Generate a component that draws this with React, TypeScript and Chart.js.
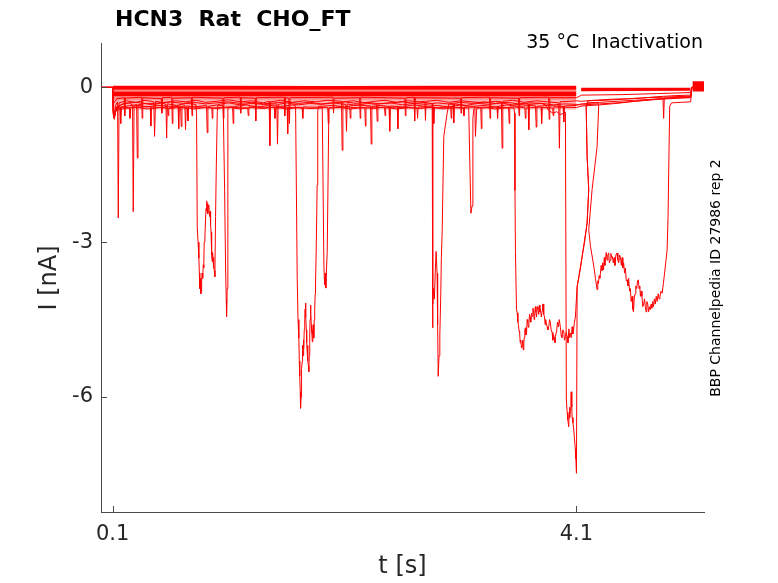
import React, { useEffect, useRef } from "react";
import { Chart, registerables } from "chart.js";

Chart.register(...registerables);

type P = [number, number];

// ---- axes ----
const xTicks = [0.1, 4.1];
const yTicks = [0, -3, -6];
const xLimits: P = [0, 5.2];
const yLimits: P = [-8.23, 0.86];

// ---- texts ----
const titleText = "HCN3  Rat  CHO_FT";
const subtitleText = "35 °C  Inactivation";
const sideText = "BBP Channelpedia ID 27986 rep 2";
const xLabel = "t [s]";
const yLabel = "I [nA]";

// ---- dense noise envelopes of the overlapping sweeps (t [s], I [nA]) ----
const preBand0: P[] = [[0.1, 0.03], [1.0, 0.03], [2.0, 0.025], [3.0, 0.03], [4.1, 0.03]];
const preBand1: P[] = [[0.1, -0.045], [1.0, -0.045], [2.0, -0.045], [3.0, -0.045], [4.1, -0.045]];
const preBand2: P[] = [[0.1, -0.08], [1.0, -0.08], [2.0, -0.08], [3.0, -0.08], [4.1, -0.08]];
const preBand3: P[] = [[0.1, -0.17], [1.0, -0.17], [2.0, -0.17], [3.0, -0.17], [4.1, -0.17]];
const preBand4: P[] = [[0.1, -0.24], [1.0, -0.24], [2.0, -0.24], [3.0, -0.24], [4.1, -0.24]];
const preBand5: P[] = [[0.1, -0.43], [1.0, -0.43], [2.0, -0.43], [3.0, -0.43], [4.1, -0.43]];
const postBand0: P[] = [[4.14, -0.005], [4.6, -0.005], [5.085, -0.005]];
const postBand1: P[] = [[4.14, -0.075], [4.6, -0.07], [5.085, -0.065]];
const tailBand0: P[] = [[5.1, 0.12], [5.2, 0.12]];
const tailBand1: P[] = [[5.1, -0.08], [5.2, -0.08]];

// ---- individual sweeps (t [s], I [nA]) ----
const sweep1: P[] = [
  [0, 0], [0.1, 0], [0.104, -0.45], [0.112, -0.58], [0.125, -0.35], [0.143, -0.28], [0.149, -2.53], [0.156, -0.3],
  [0.22, -0.26], [0.3, -0.29], [0.38, -0.25], [0.455, -0.28], [0.462, -0.95], [0.47, -0.27], [0.55, -0.3],
  [0.64, -0.26], [0.73, -0.28], [0.82, -0.25], [0.9, -0.29], [1.0, -0.27], [1.1, -0.24], [1.2, -0.28],
  [1.3, -0.26], [1.4, -0.3], [1.45, -0.27], [1.456, -1.13], [1.462, -0.28], [1.55, -0.25], [1.65, -0.29],
  [1.75, -0.26], [1.85, -0.28], [1.95, -0.25], [2.074, -0.27], [2.08, -1.22], [2.086, -0.28], [2.18, -0.26],
  [2.27, -0.3], [2.36, -0.27], [2.45, -0.25], [2.55, -0.29], [2.65, -0.26], [2.75, -0.28], [2.793, -0.27],
  [2.798, -0.64], [2.804, -0.27], [2.9, -0.25], [3.0, -0.29], [3.1, -0.26], [3.2, -0.28], [3.3, -0.3],
  [3.4, -0.27], [3.453, -0.28], [3.459, -1.18], [3.465, -0.27], [3.55, -0.25], [3.65, -0.29], [3.75, -0.26],
  [3.85, -0.28], [3.947, -0.3], [3.953, -1.18], [3.959, -0.28], [4.05, -0.27], [4.1, -0.26], [4.14, -0.27],
  [4.25, -0.25], [4.4, -0.23], [4.55, -0.22], [4.7, -0.2], [4.846, -0.19], [4.852, -0.6], [4.858, -0.19],
  [4.95, -0.18], [5.085, -0.17], [5.095, 0], [5.2, 0],
];

const sweep2: P[] = [
  [0, 0], [0.1, 0], [0.106, -0.5], [0.115, -0.62], [0.13, -0.4], [0.18, -0.33], [0.24, -0.3], [0.272, -0.34],
  [0.278, -2.41], [0.285, -0.36], [0.307, -0.33], [0.313, -1.37], [0.319, -0.34], [0.38, -0.31], [0.45, -0.34],
  [0.52, -0.3], [0.56, -0.33], [0.566, -0.98], [0.572, -0.32], [0.65, -0.35], [0.74, -0.31], [0.818, -0.33],
  [0.824, -0.5], [0.83, -2.72], [0.837, -3.0], [0.844, -3.31], [0.848, -3.6], [0.852, -3.9], [0.855, -3.7],
  [0.859, -3.76], [0.862, -4.0], [0.865, -3.96], [0.868, -3.75], [0.872, -3.6], [0.877, -3.7], [0.882, -3.44],
  [0.886, -3.5], [0.89, -3.0], [0.896, -2.9], [0.902, -2.53], [0.906, -2.35], [0.91, -2.4], [0.913, -2.2],
  [0.916, -2.31], [0.919, -2.25], [0.922, -2.45], [0.926, -2.3], [0.93, -2.28], [0.934, -2.45], [0.938, -2.5],
  [0.941, -2.4], [0.945, -2.66], [0.949, -2.8], [0.952, -3.1], [0.956, -3.25], [0.959, -3.38], [0.962, -3.2],
  [0.966, -3.3], [0.97, -3.5], [0.973, -3.47], [0.977, -3.55], [0.982, -3.67], [0.988, -2.5], [0.994, -1.56],
  [1.003, -0.47], [1.01, -0.33], [1.1, -0.3], [1.2, -0.34], [1.3, -0.31], [1.4, -0.33],
  [1.516, -0.32], [1.522, -1.1], [1.528, -0.33], [1.6, -0.3], [1.7, -0.34], [1.8, -0.31], [1.9, -0.33],
  [2.0, -0.3], [2.111, -0.33], [2.117, -0.85], [2.123, -0.32], [2.2, -0.35], [2.3, -0.31], [2.376, -0.33],
  [2.382, -0.66], [2.388, -0.32], [2.5, -0.3], [2.6, -0.34], [2.7, -0.31], [2.8, -0.33], [2.9, -0.3],
  [3.036, -0.33], [3.042, -0.69], [3.048, -0.32], [3.15, -0.35], [3.25, -0.31], [3.35, -0.33], [3.45, -0.3],
  [3.55, -0.34], [3.683, -0.32], [3.689, -0.82], [3.695, -0.33], [3.8, -0.31], [3.9, -0.34], [4.0, -0.32],
  [4.1, -0.33], [4.15, -0.34], [4.3, -0.32], [4.45, -0.3], [4.6, -0.27], [4.75, -0.24], [4.9, -0.22],
  [5.085, -0.2], [5.095, 0], [5.2, 0],
];

const sweep3: P[] = [
  [0, 0], [0.1, 0], [0.108, -0.48], [0.118, -0.55], [0.135, -0.4], [0.2, -0.37], [0.3, -0.34], [0.4, -0.38],
  [0.5, -0.35], [0.6, -0.37], [0.686, -0.36], [0.692, -0.76], [0.698, -0.37], [0.723, -0.35], [0.729, -0.82],
  [0.735, -0.36], [0.8, -0.38], [0.91, -0.35], [0.916, -0.88], [0.922, -0.37], [1.0, -0.34], [1.054, -0.36],
  [1.066, -2.0], [1.075, -3.6], [1.08, -4.1], [1.083, -4.44], [1.088, -3.9], [1.094, -0.4], [1.15, -0.37],
  [1.25, -0.34], [1.35, -0.38], [1.45, -0.35], [1.55, -0.37], [1.65, -0.34], [1.678, -0.36], [1.692, -3.7],
  [1.699, -4.5], [1.706, -4.86], [1.71, -5.3], [1.714, -5.6], [1.718, -5.9], [1.721, -6.22], [1.725, -6.0],
  [1.728, -5.8], [1.731, -5.45], [1.735, -5.32], [1.738, -5.0], [1.742, -5.2], [1.746, -4.9], [1.749, -5.06],
  [1.753, -4.7], [1.757, -4.5], [1.76, -4.3], [1.764, -4.18], [1.767, -4.45], [1.771, -4.7], [1.774, -4.95],
  [1.778, -5.12], [1.781, -5.0], [1.785, -5.3], [1.789, -5.4], [1.792, -5.51], [1.796, -5.2], [1.8, -4.8],
  [1.803, -4.5], [1.807, -4.22], [1.81, -4.4], [1.814, -4.6], [1.818, -4.75], [1.822, -4.93], [1.825, -4.7],
  [1.828, -4.8], [1.832, -4.6], [1.835, -4.86], [1.839, -4.5], [1.843, -4.3], [1.847, -4.0], [1.85, -3.83],
  [1.857, -3.0], [1.864, -1.89], [1.869, -0.47], [1.875, -0.37],
  [2.0, -0.35], [2.1, -0.38], [2.2, -0.34], [2.324, -0.36], [2.33, -1.1], [2.336, -0.37], [2.41, -0.35],
  [2.484, -0.37], [2.49, -0.85], [2.496, -0.36], [2.6, -0.38], [2.7, -0.34], [2.8, -0.37], [2.9, -0.35],
  [3.0, -0.38], [3.1, -0.34], [3.2, -0.37], [3.3, -0.35], [3.4, -0.38], [3.5, -0.34], [3.6, -0.37], [3.7, -0.35],
  [3.747, -0.36], [3.753, -0.77], [3.759, -0.37], [3.85, -0.35], [3.985, -0.37], [3.991, -0.67], [3.997, -0.36],
  [4.1, -0.35], [4.14, -0.32], [4.2, -0.31], [4.285, -0.3], [4.292, -0.35], [4.278, -1.15], [4.235, -1.98],
  [4.206, -2.76], [4.221, -3.08], [4.25, -3.47], [4.264, -3.7], [4.278, -3.92], [4.284, -3.75], [4.29, -3.8],
  [4.296, -3.65], [4.302, -3.7], [4.307, -3.6], [4.313, -3.45], [4.32, -3.55], [4.326, -3.4], [4.333, -3.54],
  [4.34, -3.3], [4.345, -3.45], [4.35, -3.34], [4.357, -3.2], [4.364, -3.35], [4.37, -3.25], [4.378, -3.21],
  [4.384, -3.4], [4.39, -3.35], [4.397, -3.22], [4.404, -3.3], [4.41, -3.28], [4.418, -3.4], [4.425, -3.3],
  [4.432, -3.45], [4.44, -3.25], [4.45, -3.21], [4.457, -3.35], [4.465, -3.4], [4.472, -3.25], [4.48, -3.3],
  [4.487, -3.45], [4.494, -3.3], [4.5, -3.5], [4.507, -3.4], [4.515, -3.6], [4.522, -3.5], [4.53, -3.75],
  [4.537, -3.73], [4.544, -3.85], [4.55, -3.7], [4.558, -3.95], [4.565, -3.9], [4.572, -4.15], [4.58, -4.05],
  [4.586, -4.3], [4.592, -4.35], [4.598, -4.1], [4.605, -4.0], [4.612, -3.85], [4.62, -3.9], [4.627, -3.75],
  [4.634, -3.73], [4.64, -3.9], [4.646, -3.85], [4.652, -4.05], [4.658, -3.95], [4.665, -4.05], [4.672, -4.25],
  [4.68, -4.2], [4.687, -4.1], [4.694, -4.25], [4.7, -4.35], [4.707, -4.15], [4.715, -4.2], [4.722, -4.35],
  [4.73, -4.25], [4.737, -4.31], [4.744, -4.2], [4.75, -4.28], [4.758, -4.15], [4.765, -4.25], [4.772, -4.1],
  [4.78, -4.2], [4.788, -4.05], [4.796, -4.15], [4.805, -4.0], [4.812, -4.1], [4.82, -4.05], [4.83, -3.95],
  [4.839, -3.99], [4.85, -3.8], [4.86, -3.6], [4.87, -3.4], [4.882, -3.15], [4.89, -2.5], [4.904, -0.37],
  [4.92, -0.3], [5.0, -0.29], [5.085, -0.28], [5.095, 0], [5.2, 0],
];

const sweep4: P[] = [
  [0, 0], [0.1, 0], [0.105, -0.52], [0.113, -0.6], [0.128, -0.45], [0.2, -0.41], [0.3, -0.38], [0.4, -0.42],
  [0.5, -0.39], [0.6, -0.41], [0.7, -0.38], [0.8, -0.42], [0.9, -0.39], [1.0, -0.41], [1.1, -0.38], [1.2, -0.42],
  [1.3, -0.39], [1.4, -0.41], [1.5, -0.38], [1.6, -0.42], [1.7, -0.39], [1.8, -0.41], [1.908, -0.4],
  [1.922, -3.44], [1.926, -3.7], [1.93, -3.83], [1.934, -3.6], [1.939, -3.89], [1.945, -3.5], [1.951, -3.18],
  [1.965, -0.4], [2.05, -0.38], [2.15, -0.42],
  [2.25, -0.39], [2.35, -0.41], [2.45, -0.38], [2.55, -0.42], [2.65, -0.39], [2.75, -0.41], [2.85, -0.38],
  [2.95, -0.42], [3.05, -0.39], [3.171, -0.4], [3.181, -1.5], [3.19, -2.44], [3.2, -2.3], [3.207, -0.6],
  [3.215, -0.42], [3.224, -0.4], [3.229, -0.95], [3.24, -0.41], [3.3, -0.38], [3.4, -0.42], [3.5, -0.39],
  [3.56, -0.4], [3.567, -0.5], [3.57, -2.0], [3.574, -3.18], [3.583, -4.3], [3.589, -4.37], [3.595, -4.55],
  [3.6, -4.6], [3.605, -4.72], [3.61, -4.75], [3.615, -4.95], [3.62, -4.9], [3.626, -5.05], [3.632, -5.02],
  [3.637, -4.9], [3.641, -5.09], [3.646, -4.95], [3.65, -4.85], [3.655, -4.7], [3.66, -4.66], [3.665, -4.8],
  [3.67, -4.75], [3.675, -4.5], [3.68, -4.55], [3.685, -4.65], [3.69, -4.6], [3.695, -4.4], [3.7, -4.45],
  [3.706, -4.55], [3.712, -4.38], [3.718, -4.44], [3.724, -4.28], [3.73, -4.3], [3.735, -4.5], [3.74, -4.42],
  [3.745, -4.25], [3.75, -4.35], [3.756, -4.45], [3.762, -4.25], [3.768, -4.3], [3.775, -4.4], [3.78, -4.22],
  [3.785, -4.35], [3.79, -4.3], [3.797, -4.45], [3.804, -4.34], [3.808, -4.2], [3.813, -4.2], [3.818, -4.4],
  [3.825, -4.45], [3.83, -4.6], [3.835, -4.5], [3.841, -4.58], [3.847, -4.64], [3.854, -4.7], [3.861, -4.64],
  [3.868, -4.5], [3.875, -4.55], [3.882, -4.7], [3.89, -4.75], [3.897, -4.9], [3.903, -4.8], [3.91, -4.86],
  [3.915, -4.95], [3.919, -4.83], [3.925, -4.75], [3.93, -4.7], [3.937, -4.55], [3.945, -4.64], [3.952, -4.5],
  [3.962, -4.66], [3.968, -4.8], [3.975, -4.85], [3.982, -4.7], [3.99, -4.72], [3.997, -4.9], [4.005, -4.83],
  [4.012, -4.75], [4.02, -4.83], [4.027, -4.95], [4.035, -4.68], [4.041, -4.85], [4.048, -4.76], [4.055, -4.85],
  [4.063, -4.64], [4.069, -4.78], [4.075, -4.7], [4.083, -4.55], [4.091, -4.45], [4.106, -3.86], [4.12, -3.7],
  [4.135, -3.5], [4.149, -3.28], [4.17, -3.0], [4.192, -2.63], [4.206, -1.98], [4.192, -1.34], [4.184, -0.37],
  [4.19, -0.3], [4.3, -0.29], [4.45, -0.27], [4.6, -0.25], [4.75, -0.23], [4.9, -0.21], [5.085, -0.19],
  [5.095, 0], [5.2, 0],
];

const sweep5: P[] = [
  [0, 0], [0.1, 0], [0.107, -0.46], [0.116, -0.57], [0.132, -0.38], [0.2, -0.31], [0.3, -0.29], [0.4, -0.32],
  [0.5, -0.3], [0.6, -0.28], [0.7, -0.31], [0.8, -0.29], [0.9, -0.32], [1.0, -0.3], [1.1, -0.28], [1.2, -0.31],
  [1.3, -0.29], [1.4, -0.32], [1.5, -0.3], [1.6, -0.28], [1.7, -0.31], [1.8, -0.29], [1.9, -0.32], [2.0, -0.3],
  [2.1, -0.28], [2.2, -0.31], [2.3, -0.29], [2.4, -0.32], [2.5, -0.3], [2.6, -0.28], [2.7, -0.31], [2.8, -0.29],
  [2.856, -0.32], [2.859, -4.66], [2.863, -4.2], [2.868, -3.9], [2.875, -4.1], [2.882, -3.6], [2.89, -3.18],
  [2.898, -3.6], [2.903, -4.6], [2.908, -5.6], [2.915, -5.2], [2.922, -4.8], [2.93, -4.0], [2.935, -3.3],
  [2.942, -2.8], [2.956, -0.95], [2.985, -0.5], [3.0, -0.32], [3.1, -0.29],
  [3.2, -0.31], [3.3, -0.28], [3.4, -0.31], [3.5, -0.29], [3.6, -0.32], [3.7, -0.3], [3.8, -0.31], [3.84, -0.35],
  [3.86, -0.45], [3.9, -0.5], [3.93, -0.47], [3.96, -0.53], [3.99, -0.5], [4.005, -0.48], [4.013, -6.06],
  [4.02, -6.3], [4.026, -6.45], [4.033, -6.58], [4.037, -6.35], [4.04, -6.2], [4.044, -6.4], [4.048, -6.25],
  [4.052, -6.0], [4.055, -5.9], [4.06, -6.2], [4.063, -6.4], [4.07, -6.5], [4.077, -6.64], [4.083, -6.8],
  [4.09, -7.0], [4.095, -7.2], [4.1, -7.48], [4.106, -3.86], [4.149, -3.28], [4.192, -2.63], [4.206, -1.98],
  [4.192, -1.34], [4.184, -0.37], [4.2, -0.26], [4.35, -0.25], [4.5, -0.23], [4.65, -0.21], [4.8, -0.18],
  [4.95, -0.16], [5.085, -0.15], [5.095, 0], [5.2, 0],
];

const sweep6: P[] = [
  [0, 0], [0.1, 0], [0.11, -0.3], [0.14, -0.22], [0.2, -0.2], [0.205, -0.55], [0.21, -0.21], [0.35, -0.19],
  [0.355, -0.6], [0.36, -0.2], [0.52, -0.22], [0.525, -0.5], [0.53, -0.2], [0.61, -0.19], [0.615, -0.7],
  [0.62, -0.21], [0.78, -0.2], [0.785, -0.55], [0.79, -0.19], [1.05, -0.21], [1.055, -0.6], [1.06, -0.2],
  [1.2, -0.19], [1.205, -0.5], [1.21, -0.2], [1.33, -0.21], [1.335, -0.65], [1.34, -0.2], [1.58, -0.19],
  [1.585, -0.55], [1.59, -0.2], [1.62, -0.21], [1.625, -0.7], [1.63, -0.2], [2.0, -0.19], [2.005, -0.5],
  [2.01, -0.21], [2.23, -0.2], [2.235, -0.6], [2.24, -0.19], [2.62, -0.21], [2.625, -0.55], [2.63, -0.2],
  [2.7, -0.19], [2.705, -0.65], [2.71, -0.2], [3.1, -0.21], [3.105, -0.5], [3.11, -0.2], [3.35, -0.19],
  [3.355, -0.6], [3.36, -0.2], [3.6, -0.21], [3.605, -0.55], [3.61, -0.2], [3.86, -0.19], [3.865, -0.62],
  [3.87, -0.2], [4.1, -0.2], [4.145, -0.15], [4.5, -0.14], [4.8, -0.12], [5.085, -0.1], [5.095, 0], [5.2, 0],
];

const sweep7: P[] = [
  [0, 0], [0.1, 0], [0.109, -0.5], [0.12, -0.45], [0.165, -0.38], [0.17, -0.7], [0.175, -0.38], [0.245, -0.4],
  [0.25, -0.6], [0.255, -0.39], [0.425, -0.37], [0.43, -0.75], [0.435, -0.4], [0.575, -0.38], [0.58, -0.55],
  [0.585, -0.4], [0.665, -0.37], [0.67, -0.8], [0.675, -0.39], [0.745, -0.4], [0.75, -0.65], [0.755, -0.38],
  [0.955, -0.39], [0.96, -0.6], [0.965, -0.4], [1.135, -0.38], [1.14, -0.7], [1.145, -0.39], [1.265, -0.4],
  [1.27, -0.55], [1.275, -0.38], [1.495, -0.39], [1.5, -0.6], [1.505, -0.4], [1.605, -0.38], [1.61, -0.9],
  [1.615, -0.39], [1.735, -0.4], [1.74, -0.6], [1.745, -0.38], [1.955, -0.39], [1.96, -0.7], [1.965, -0.4],
  [2.145, -0.38], [2.15, -0.6], [2.155, -0.39], [2.275, -0.4], [2.28, -0.75], [2.285, -0.38], [2.445, -0.39],
  [2.45, -0.55], [2.455, -0.4], [2.555, -0.38], [2.56, -0.8], [2.565, -0.39], [2.725, -0.4], [2.73, -0.6],
  [2.735, -0.38], [2.865, -0.39], [2.87, -0.7], [2.875, -0.4], [3.015, -0.38], [3.02, -0.6], [3.025, -0.39],
  [3.125, -0.4], [3.13, -0.55], [3.135, -0.38], [3.275, -0.39], [3.28, -0.8], [3.285, -0.4], [3.415, -0.38],
  [3.42, -0.6], [3.425, -0.39], [3.515, -0.4], [3.52, -0.7], [3.525, -0.38], [3.655, -0.39], [3.66, -0.6],
  [3.665, -0.4], [3.795, -0.38], [3.8, -0.7], [3.805, -0.39], [3.895, -0.4], [3.9, -0.55], [3.905, -0.38],
  [4.1, -0.39], [4.15, -0.36], [4.3, -0.34], [4.45, -0.31], [4.6, -0.27], [4.75, -0.24], [4.9, -0.2],
  [5.085, -0.18], [5.095, 0], [5.2, 0],
];

const RED = "rgb(255,0,0)";
const RED_SOFT = "rgba(255,0,0,0.5)";
const RED_FAINT = "rgba(255,0,0,0.3)";
const AXIS = "#4a4a4a";
const INK = "#262626";
const FONT = "'DejaVu Sans', 'Noto Sans', sans-serif";

const toXY = (p: P[]) => p.map(([x, y]) => ({ x, y }));

function bandSets(edges: P[][], colors: string[]) {
  return edges.map((e, i) => ({
    data: toXY(e),
    borderWidth: 0,
    borderColor: "rgba(0,0,0,0)",
    pointRadius: 0,
    fill: i === 0 ? false : "-1",
    backgroundColor: i === 0 ? "rgba(0,0,0,0)" : colors[i - 1],
  }));
}

const decorPlugin = {
  id: "decor",
  afterDraw(chart: any) {
    const { ctx, chartArea, scales } = chart;
    const xs = scales.x;
    const ys = scales.y;
    ctx.save();
    ctx.strokeStyle = AXIS;
    ctx.lineWidth = 1;
    xTicks.forEach((v) => {
      const px = Math.round(xs.getPixelForValue(v)) + 0.5;
      ctx.beginPath();
      ctx.moveTo(px, chartArea.bottom);
      ctx.lineTo(px, chartArea.bottom - 6);
      ctx.stroke();
    });
    yTicks.forEach((v) => {
      const py = Math.round(ys.getPixelForValue(v)) + 0.5;
      ctx.beginPath();
      ctx.moveTo(chartArea.left, py);
      ctx.lineTo(chartArea.left + 6, py);
      ctx.stroke();
    });
    ctx.fillStyle = INK;
    ctx.font = `21px ${FONT}`;
    ctx.textBaseline = "middle";
    ctx.textAlign = "center";
    xTicks.forEach((v) => {
      ctx.fillText(v.toFixed(1), xs.getPixelForValue(v), 535);
    });
    ctx.textAlign = "right";
    yTicks.forEach((v) => {
      ctx.fillText(String(v), chartArea.left - 8, ys.getPixelForValue(v));
    });
    ctx.font = `24px ${FONT}`;
    ctx.textAlign = "center";
    ctx.fillText(xLabel, (chartArea.left + chartArea.right) / 2, 567);
    ctx.save();
    ctx.translate(50, 278);
    ctx.rotate(-Math.PI / 2);
    ctx.fillText(yLabel, 0, 0);
    ctx.restore();
    ctx.fillStyle = "#000";
    ctx.font = `bold 22px ${FONT}`;
    ctx.textAlign = "left";
    ctx.textBaseline = "alphabetic";
    ctx.fillText(titleText, 115, 26);
    ctx.font = `19px ${FONT}`;
    ctx.textAlign = "right";
    ctx.fillText(subtitleText, 703, 48);
    ctx.save();
    ctx.translate(716, 278);
    ctx.rotate(-Math.PI / 2);
    ctx.font = `14px ${FONT}`;
    ctx.textAlign = "center";
    ctx.textBaseline = "middle";
    ctx.fillText(sideText, 0, 0);
    ctx.restore();
    ctx.restore();
  },
};

export default function App() {
  const ref = useRef<HTMLCanvasElement>(null);
  useEffect(() => {
    if (!ref.current) return;
    const sweeps = [sweep7, sweep6, sweep1, sweep2, sweep4, sweep5, sweep3];
    const datasets: any[] = [
      ...bandSets(
        [preBand0, preBand1, preBand2, preBand3, preBand4, preBand5],
        [RED, RED_SOFT, RED, RED_SOFT, RED_FAINT]
      ),
      ...bandSets([postBand0, postBand1], [RED]),
      ...bandSets([tailBand0, tailBand1], [RED]),
      ...sweeps.map((s) => ({
        data: toXY(s),
        borderColor: RED,
        borderWidth: 1,
        pointRadius: 0,
        fill: false,
        tension: 0,
      })),
    ];
    const chart = new Chart(ref.current, {
      type: "line",
      data: { datasets },
      options: {
        animation: false,
        responsive: false,
        devicePixelRatio: 1,
        events: [],
        layout: { padding: { left: 0, top: 43, right: 74, bottom: 0 } },
        plugins: {
          legend: { display: false },
          tooltip: { enabled: false },
          title: { display: false },
        },
        scales: {
          x: {
            type: "linear",
            min: xLimits[0],
            max: xLimits[1],
            grid: { display: false, drawTicks: false },
            border: { display: true, color: AXIS, width: 1 },
            ticks: { display: false },
            afterFit: (s: any) => {
              s.height = 71;
            },
          },
          y: {
            type: "linear",
            min: yLimits[0],
            max: yLimits[1],
            grid: { display: false, drawTicks: false },
            border: { display: true, color: AXIS, width: 1 },
            ticks: { display: false },
            afterFit: (s: any) => {
              s.width = 101;
            },
          },
        },
      },
      plugins: [decorPlugin],
    } as any);
    return () => chart.destroy();
  }, []);
  return (
    <div style={{ position: "fixed", left: 0, top: 0, width: 778, height: 583, background: "#fff" }}>
      <canvas ref={ref} width={778} height={583} style={{ width: 778, height: 583, display: "block" }} />
    </div>
  );
}
